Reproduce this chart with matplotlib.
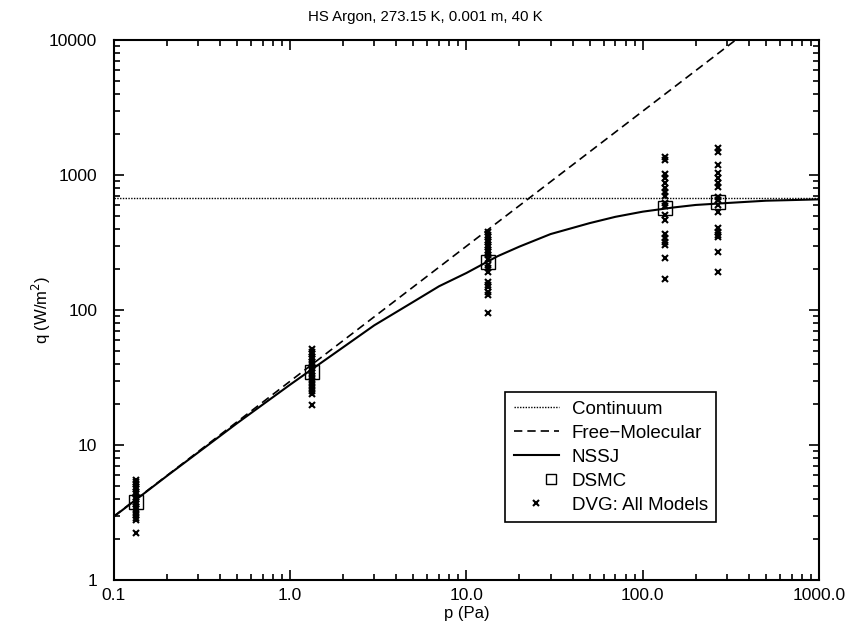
import numpy as np
import matplotlib
matplotlib.use("Agg")
import matplotlib.pyplot as plt
from matplotlib.legend_handler import HandlerLine2D

plt.rcParams['font.family'] = ['Liberation Sans', 'DejaVu Sans']

# DSMC results
p_dsmc = [0.133, 1.33, 13.3, 133.0, 266.0]
q_dsmc = [3.8, 34.7, 227.0, 570.0, 630.0]

# DVG results, all models (one list per pressure)
q_dvg_1 = [5.5, 5.3, 5.1, 4.9, 4.7, 4.5, 4.3, 4.1, 3.95, 3.8, 3.65, 3.5, 3.35, 3.2, 3.05, 2.9, 2.8, 2.23]
q_dvg_2 = [51, 49, 47, 45, 43, 41, 39, 37, 35.5, 34, 32.5, 31, 29.5, 28, 26.5, 25, 23.8, 19.8]
q_dvg_3 = [378, 360, 347, 330, 319, 305, 293, 280, 269, 255, 240, 215, 205, 191, 161, 152, 148, 136, 129, 95]
q_dvg_4 = [1360, 1292, 1017, 950, 873, 801, 748, 699, 620, 590, 505, 464, 365, 341, 319, 303, 243, 170]
q_dvg_5 = [1585, 1480, 1186, 1035, 950, 873, 815, 687, 650, 600, 532, 405, 378, 359, 347, 269, 191]
q_dvg = [q_dvg_1, q_dvg_2, q_dvg_3, q_dvg_4, q_dvg_5]

# NSSJ curve
p_nssj = [0.1, 0.2, 0.5, 1, 2, 3, 5, 7, 10, 15, 20, 30, 50, 70, 100, 150, 200, 300, 500, 700, 1000]
q_nssj = [2.95, 5.9, 14.5, 28, 53, 77, 115, 150, 188, 250, 295, 365, 440, 490, 535, 575, 600, 620, 645, 652, 660]

# limits
q_cont = 670.0
p_fm = [0.1, 1000.0]
q_fm = [2.97, 29700.0]

fig = plt.figure(figsize=(8.5, 6.3), dpi=100)
ax = fig.add_axes([0.134, 0.0794, 0.8295, 0.8571])

ax.axhline(q_cont, color='black', ls=(0, (1, 1)), lw=1.0, label='Continuum')
ax.plot(p_fm, q_fm, color='black', ls=(0, (5, 3)), lw=1.2, label='Free\u2212Molecular')
ax.plot(p_nssj, q_nssj, color='black', ls='-', lw=1.5, label='NSSJ')
dsmc, = ax.plot(p_dsmc, q_dsmc, ls='none', marker='s', ms=10, mfc='none',
                mec='black', mew=1.0, label='DSMC')
for i in range(len(p_dsmc)):
    pts = [p_dsmc[i]] * len(q_dvg[i])
    dvg, = ax.plot(pts, q_dvg[i], ls='none', marker='x', ms=4, mew=1.5,
                   color='black', label='DVG: All Models' if i == 0 else None)

ax.set_xscale('log')
ax.set_yscale('log')
ax.set_xlim(0.1, 1000)
ax.set_ylim(1, 10000)

ax.set_xticks([0.1, 1, 10, 100, 1000])
ax.set_xticklabels(['0.1', '1.0', '10.0', '100.0', '1000.0'])
ax.set_yticks([1, 10, 100, 1000, 10000])
ax.set_yticklabels(['1', '10', '100', '1000', '10000'])

ax.tick_params(which='both', direction='in', top=True, right=True, labelsize=12.5, width=1.2)
ax.tick_params(which='major', length=7)
ax.tick_params(axis='x', which='major', pad=6)
ax.tick_params(axis='y', which='major', pad=12)
ax.tick_params(which='minor', length=4)
for s in ax.spines.values():
    s.set_linewidth(1.5)

ax.set_xlabel('p (Pa)', fontsize=12, labelpad=2)
ax.set_ylabel('q (W/m$^2$)', fontsize=12)
ax.yaxis.set_label_coords(-0.087, 0.5)
fig.text(0.5, 1 - 17 / 630, 'HS Argon, 273.15 K, 0.001 m, 40 K', fontsize=10.8,
         ha='center', va='center')


class RightMarker(HandlerLine2D):
    def get_xdata(self, legend, xdescent, ydescent, width, height, fontsize):
        x = [-xdescent + width - 0.4 * fontsize]
        return x, x


leg = ax.legend(loc='lower left', bbox_to_anchor=(0.555, 0.107, 0.30, 0.241),
                fontsize=13.5, frameon=True, fancybox=False,
                handlelength=2.4, borderpad=0.45, labelspacing=0.37,
                handletextpad=0.7, borderaxespad=0,
                handler_map={dsmc: RightMarker(numpoints=1), dvg: RightMarker(numpoints=1)})
leg.get_frame().set_edgecolor('black')
leg.get_frame().set_linewidth(1.2)
leg.get_frame().set_alpha(1)
leg.legend_handles[3].set_markersize(7)
leg.legend_handles[4].set_markersize(4.5)

fig.savefig('out.png', dpi=100)
